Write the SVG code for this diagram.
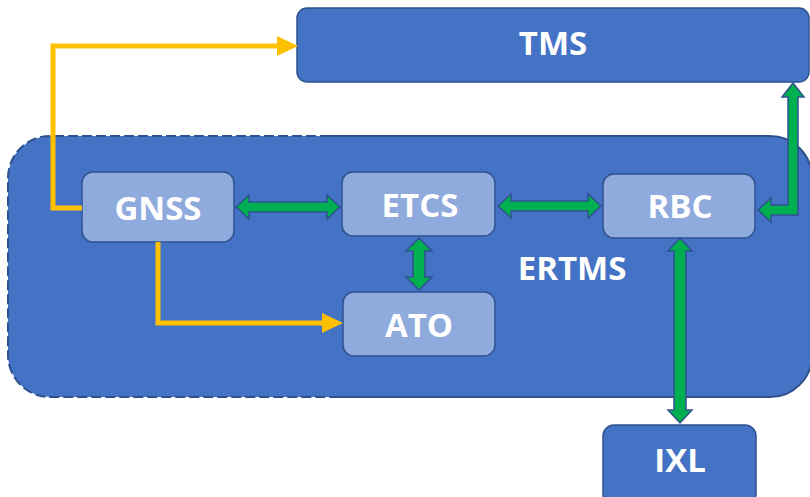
<svg xmlns="http://www.w3.org/2000/svg" width="810" height="497" viewBox="0 0 810 497">
<style>
.lbl{font-family:"Open Sans","Liberation Sans",sans-serif;font-weight:700;font-size:33px;fill:#ffffff;text-anchor:middle}
.dark{fill:#4472C4;stroke:#2F528F;stroke-width:1.5}
.light{fill:#8FAADC;stroke:#2F528F;stroke-width:1.5}
.yel{fill:none;stroke:#FFC000;stroke-width:5}
.grn{fill:#00B050;stroke:#2F528F;stroke-width:1.5;stroke-linejoin:miter}
</style>
<defs>
<marker id="ya" markerUnits="userSpaceOnUse" markerWidth="21" markerHeight="20" refX="0" refY="10" orient="auto">
<path d="M0,0 L21,10 L0,20 Z" fill="#FFC000"/>
</marker>
</defs>
<rect width="810" height="497" fill="#ffffff"/>
<g id="ERTMS">
<rect x="8" y="136" width="804" height="261" rx="42" fill="#4472C4"/>
<path d="M330,136 L50,136 A42,42 0 0 0 8,178 L8,355 A42,42 0 0 0 50,397 L330,397" fill="none" stroke="#2F528F" stroke-width="2" stroke-dasharray="10 4"/>
<path d="M330,136 L770,136 A42,42 0 0 1 812,178 L812,355 A42,42 0 0 1 770,397 L330,397" fill="none" stroke="#2F528F" stroke-width="2"/>
<text class="lbl" x="572" y="280">ERTMS</text>
</g>
<g id="TMS">
<rect class="dark" x="297" y="8" width="512" height="74" rx="10"/>
<text class="lbl" x="553" y="55">TMS</text>
</g>
<g id="GNSS">
<rect class="light" x="82" y="172" width="152" height="70" rx="11"/>
<text class="lbl" x="158" y="220">GNSS</text>
</g>
<g id="ETCS">
<rect class="light" x="342" y="172" width="153" height="64" rx="11"/>
<text class="lbl" x="420" y="217">ETCS</text>
</g>
<g id="RBC">
<rect class="light" x="603" y="174" width="152" height="64" rx="11"/>
<text class="lbl" x="680" y="218">RBC</text>
</g>
<g id="ATO">
<rect class="light" x="343" y="292" width="152" height="64" rx="11"/>
<text class="lbl" x="419" y="337">ATO</text>
</g>
<g id="IXL">
<rect class="dark" x="603" y="425" width="153" height="80" rx="11"/>
<text class="lbl" x="680" y="472">IXL</text>
</g>
<g id="connectors">
<polyline class="yel" points="82,208 53,208 53,46 277,46" marker-end="url(#ya)"/>
<polyline class="yel" points="158,242 158,323 322,323" marker-end="url(#ya)"/>
<path class="grn" d="M236,207 L249,195 L249,202 L327,202 L327,195 L340,207 L327,219 L327,212 L249,212 L249,219 Z"/>
<path class="grn" d="M498,206 L511,194 L511,201 L588,201 L588,194 L601,206 L588,218 L588,211 L511,211 L511,218 Z"/>
<path class="grn" d="M419,238 L432,251 L425,251 L425,277 L432,277 L419,290 L406,277 L413,277 L413,251 L406,251 Z"/>
<path class="grn" d="M680,238 L692,251 L686,251 L686,410 L692,410 L680,423 L668,410 L674,410 L674,251 L668,251 Z"/>
<path class="grn" d="M758,210 L771,198 L771,205 L788,205 L788,97 L782,97 L793,83 L804,97 L798,97 L798,215 L771,215 L771,222 Z"/>
</g>
</svg>
